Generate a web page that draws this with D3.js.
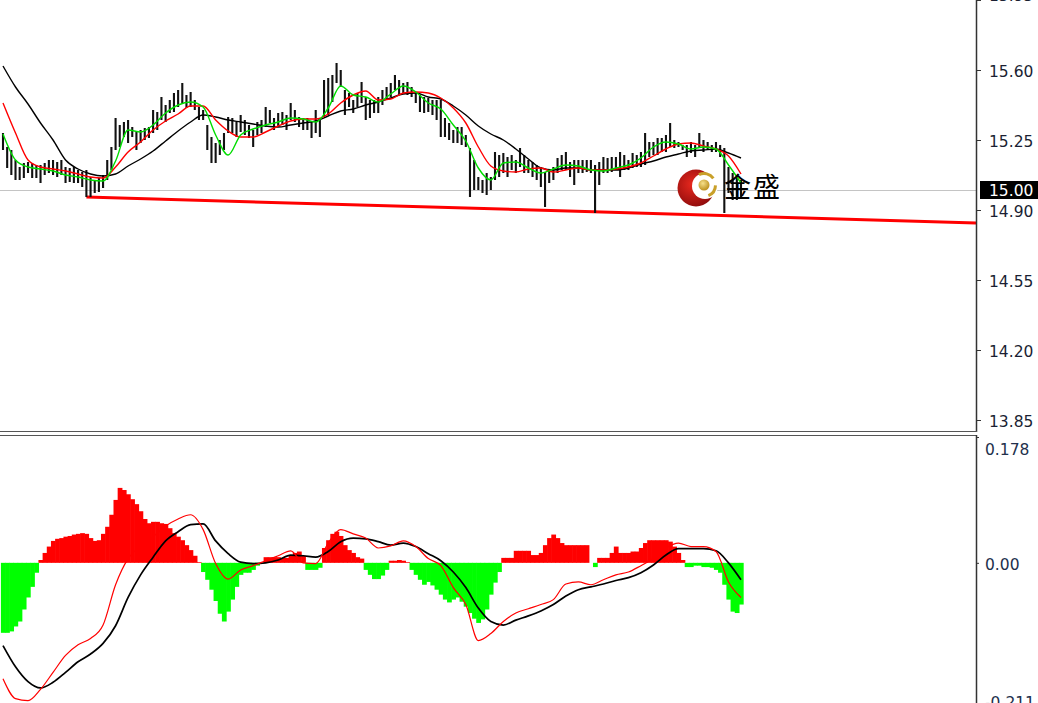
<!DOCTYPE html>
<html><head><meta charset="utf-8">
<script src="https://cdn.jsdelivr.net/npm/d3@7"></script>
<style>html,body{margin:0;padding:0;background:#fff;overflow:hidden}</style>
</head><body>
<svg id="c" width="1038" height="703"></svg>
<script>
// ---------------- DATA ----------------
const barHigh = [
15.285,15.215,15.200,15.150,15.115,15.135,15.140,15.135,15.125,15.125,
15.135,15.150,15.150,15.140,15.150,15.115,15.110,15.115,15.100,15.090,
15.100,15.065,15.050,15.060,15.075,15.150,15.215,15.360,15.325,15.340,
15.350,15.315,15.290,15.300,15.310,15.315,15.400,15.390,15.465,15.425,
15.450,15.485,15.500,15.535,15.475,15.490,15.450,15.415,15.400,15.325,
15.265,15.235,15.250,15.285,15.365,15.360,15.340,15.375,15.350,15.325,
15.300,15.340,15.350,15.415,15.400,15.360,15.385,15.390,15.375,15.435,
15.400,15.365,15.360,15.360,15.340,15.400,15.360,15.550,15.560,15.575,
15.635,15.600,15.500,15.485,15.450,15.485,15.540,15.465,15.450,15.450,
15.465,15.500,15.515,15.535,15.575,15.550,15.535,15.540,15.515,15.490,
15.475,15.465,15.460,15.450,15.450,15.450,15.360,15.335,15.300,15.315,
15.315,15.275,15.210,15.150,15.065,15.050,15.085,15.065,15.190,15.175,
15.185,15.165,15.175,15.150,15.210,15.175,15.150,15.140,15.125,15.115,
15.090,15.100,15.115,15.160,15.175,15.190,15.140,15.150,15.150,15.150,
15.150,15.150,15.125,15.140,15.165,15.160,15.165,15.165,15.190,15.175,
15.150,15.185,15.175,15.190,15.285,15.240,15.240,15.260,15.260,15.275,
15.335,15.250,15.240,15.225,15.225,15.240,15.225,15.285,15.250,15.240,
15.225,15.240,15.225,15.210,15.115,15.085,15.065,15.050];
const barLow = [
15.200,15.110,15.075,15.050,15.050,15.060,15.085,15.060,15.060,15.035,
15.075,15.085,15.075,15.065,15.075,15.035,15.040,15.035,15.035,15.015,
14.965,14.965,14.985,14.990,15.010,15.050,15.100,15.200,15.215,15.265,
15.235,15.265,15.200,15.235,15.250,15.260,15.285,15.300,15.350,15.340,
15.385,15.390,15.415,15.435,15.410,15.415,15.400,15.350,15.350,15.200,
15.135,15.135,15.175,15.200,15.285,15.285,15.265,15.290,15.275,15.260,
15.215,15.275,15.285,15.315,15.335,15.300,15.315,15.325,15.300,15.350,
15.340,15.315,15.300,15.300,15.260,15.285,15.265,15.365,15.375,15.440,
15.535,15.515,15.375,15.415,15.385,15.415,15.435,15.350,15.360,15.385,
15.385,15.425,15.450,15.465,15.500,15.475,15.485,15.475,15.465,15.435,
15.390,15.385,15.390,15.375,15.350,15.265,15.265,15.250,15.235,15.235,
15.225,15.215,14.965,15.000,15.000,14.985,14.975,15.000,15.050,15.065,
15.085,15.065,15.100,15.085,15.115,15.085,15.085,15.065,15.050,15.015,
14.915,15.035,15.050,15.085,15.100,15.100,15.065,15.025,15.085,15.085,
15.090,15.085,14.885,15.025,15.085,15.085,15.090,15.100,15.065,15.100,
15.100,15.110,15.115,15.115,15.125,15.165,15.175,15.175,15.190,15.190,
15.215,15.210,15.215,15.200,15.165,15.185,15.165,15.210,15.190,15.200,
15.190,15.190,15.165,14.885,14.985,14.950,14.950,14.965];

// moving averages, sampled every 3rd bar (bar 0,3,...,177)
const lineBars = d3.range(0, 178, 3);
const maFast = [15.280,15.150,15.115,15.105,15.095,15.075,15.065,15.050,15.045,15.145,
15.300,15.290,15.325,15.385,15.425,15.440,15.415,15.275,15.175,15.275,
15.305,15.325,15.340,15.360,15.355,15.340,15.410,15.520,15.475,15.465,
15.440,15.480,15.520,15.490,15.435,15.405,15.325,15.245,15.110,15.050,
15.135,15.140,15.110,15.085,15.105,15.125,15.120,15.100,15.095,15.110,
15.125,15.160,15.215,15.240,15.230,15.205,15.215,15.205,15.125,15.035];
const maMid = [15.435,15.285,15.150,15.115,15.105,15.095,15.080,15.065,15.060,15.115,
15.190,15.240,15.300,15.345,15.380,15.420,15.420,15.350,15.295,15.265,
15.265,15.290,15.320,15.345,15.355,15.355,15.380,15.435,15.475,15.495,
15.450,15.455,15.485,15.490,15.485,15.460,15.410,15.335,15.215,15.120,
15.095,15.090,15.105,15.110,15.090,15.100,15.110,15.100,15.100,15.105,
15.115,15.135,15.170,15.205,15.230,15.235,15.220,15.205,15.170,15.080];
const maSlow = [15.620,15.515,15.430,15.335,15.250,15.150,15.105,15.080,15.070,15.080,
15.120,15.155,15.195,15.245,15.295,15.340,15.375,15.365,15.350,15.340,
15.330,15.320,15.315,15.325,15.335,15.345,15.370,15.395,15.405,15.425,
15.440,15.460,15.480,15.485,15.465,15.455,15.420,15.375,15.320,15.280,
15.250,15.205,15.155,15.110,15.100,15.110,15.110,15.100,15.100,15.100,
15.110,15.130,15.145,15.165,15.180,15.195,15.200,15.205,15.185,15.160];

// MACD
const macdHist = [
-0.099,-0.099,-0.097,-0.090,-0.083,-0.066,-0.049,-0.034,-0.014,0.004,
0.014,0.023,0.031,0.034,0.035,0.037,0.038,0.040,0.041,0.042,
0.041,0.035,0.031,0.032,0.041,0.051,0.068,0.089,0.106,0.103,
0.097,0.090,0.083,0.073,0.062,0.056,0.058,0.058,0.056,0.055,
0.049,0.042,0.037,0.032,0.025,0.018,0.010,0.001,-0.013,-0.024,
-0.038,-0.054,-0.072,-0.083,-0.069,-0.052,-0.034,-0.017,-0.014,-0.014,
-0.010,-0.004,0.000,0.008,0.008,0.008,0.008,0.007,0.007,0.011,
0.014,0.016,0.010,-0.010,-0.010,-0.010,-0.007,0.021,0.032,0.041,
0.044,0.038,0.025,0.018,0.014,0.008,0.006,-0.010,-0.017,-0.023,
-0.023,-0.018,-0.010,0.003,0.003,0.004,0.003,0.001,-0.010,-0.017,
-0.024,-0.031,-0.027,-0.032,-0.038,-0.045,-0.052,-0.056,-0.052,-0.049,
-0.055,-0.062,-0.071,-0.079,-0.085,-0.080,-0.066,-0.045,-0.028,-0.013,
0.007,0.007,0.007,0.017,0.017,0.017,0.017,0.011,0.011,0.014,
0.025,0.035,0.040,0.035,0.028,0.025,0.025,0.025,0.025,0.025,
0.025,0.000,-0.006,0.007,0.007,0.007,0.014,0.023,0.014,0.014,
0.014,0.016,0.016,0.021,0.028,0.032,0.032,0.032,0.032,0.032,
0.030,0.023,0.014,0.004,-0.006,-0.006,-0.004,-0.004,-0.006,-0.006,
-0.007,-0.010,-0.014,-0.031,-0.052,-0.069,-0.071,-0.059];
const macdMain = [-0.164,-0.192,-0.195,-0.179,-0.155,-0.131,-0.116,-0.107,-0.088,-0.031,
0.006,0.024,0.037,0.052,0.062,0.068,0.047,-0.001,-0.023,-0.010,
-0.004,0.003,0.010,0.017,0.000,-0.001,0.028,0.047,0.041,0.035,
0.021,0.024,0.031,0.023,0.006,-0.004,-0.035,-0.059,-0.110,-0.100,
-0.083,-0.071,-0.065,-0.059,-0.052,-0.030,-0.027,-0.031,-0.024,-0.017,
-0.013,-0.004,0.006,0.021,0.028,0.023,0.023,0.016,-0.027,-0.049];
const macdSignal = [-0.117,-0.147,-0.168,-0.177,-0.169,-0.155,-0.140,-0.129,-0.114,-0.089,
-0.049,-0.017,0.008,0.031,0.044,0.054,0.055,0.031,0.013,0.001,
-0.001,0.000,0.004,0.011,0.010,0.008,0.016,0.030,0.035,0.034,
0.030,0.025,0.028,0.023,0.013,0.003,-0.013,-0.035,-0.064,-0.083,
-0.088,-0.081,-0.075,-0.068,-0.059,-0.047,-0.038,-0.034,-0.030,-0.025,
-0.021,-0.014,-0.003,0.011,0.020,0.020,0.020,0.017,0.000,-0.024];

const priceTicks = [15.95, 15.60, 15.25, 14.90, 14.55, 14.20, 13.85];
const currentPrice = 15.00;
const macdTicks = [0.178, 0.00, -0.211];
const macdTickLabels = ["0.178", "0.00", "-0.211"];
const trendPoints = [{bar: 20, price: 14.965}, {bar: 173, price: 14.872}];
const logoText = "金盛";

// ---------------- LAYOUT ----------------
const W = 1038, H = 703;
const axisX = 976;
const svg = d3.select("#c");
const x = d3.scaleLinear().domain([0, 177]).range([3, 741]);
const y = d3.scaleLinear().domain([13.85, 15.95]).range([420, 0]);
const ym = d3.scaleLinear().domain([-0.211, 0.178]).range([712, 437]);
const barW = x(1) - x(0);

const defs = svg.append("defs");
defs.append("clipPath").attr("id","cpMain").append("rect").attr("x",0).attr("y",0).attr("width",axisX).attr("height",431);
defs.append("clipPath").attr("id","cpMacd").append("rect").attr("x",0).attr("y",436).attr("width",axisX).attr("height",H-436);

const main = svg.append("g").attr("clip-path","url(#cpMain)");
const sub = svg.append("g").attr("clip-path","url(#cpMacd)");

// current price grey line
main.append("line").attr("x1",0).attr("x2",axisX).attr("y1",Math.round(y(currentPrice))+0.5).attr("y2",Math.round(y(currentPrice))+0.5)
  .attr("stroke","#c4c4c4").attr("stroke-width",1);

// trendline (support) extended to the right edge
const tb0 = trendPoints[0], tb1 = trendPoints[1];
const slope = (tb1.price - tb0.price) / (tb1.bar - tb0.bar);
const endBar = x.invert(axisX);
main.append("line")
  .attr("x1", x(tb0.bar)).attr("y1", y(tb0.price))
  .attr("x2", x(endBar)).attr("y2", y(tb0.price + slope*(endBar - tb0.bar)))
  .attr("stroke","#ff0000").attr("stroke-width",3);

// bars
main.append("g").selectAll("line").data(barHigh).join("line")
  .attr("x1",(d,i)=>x(i)).attr("x2",(d,i)=>x(i))
  .attr("y1",d=>y(d)).attr("y2",(d,i)=>y(barLow[i]))
  .attr("stroke","#111").attr("stroke-width",2.1);

// moving averages
const maLine = d3.line().x((d,i)=>x(lineBars[i])).y(d=>y(d)).curve(d3.curveMonotoneX);
[[maSlow,"#000000",1.4],[maMid,"#ff0000",1.4],[maFast,"#00dd00",1.4]].forEach(([arr,c,w])=>{
  main.append("path").attr("d",maLine(arr)).attr("fill","none").attr("stroke",c).attr("stroke-width",w);
});

// logo
const lg = svg.append("g");
const rg = defs.append("radialGradient").attr("id","redG").attr("cx","40%").attr("cy","40%").attr("r","65%");
rg.append("stop").attr("offset","0%").attr("stop-color","#e8281e");
rg.append("stop").attr("offset","100%").attr("stop-color","#8e0c0c");
const gg = defs.append("radialGradient").attr("id","goldG").attr("cx","40%").attr("cy","35%").attr("r","70%");
gg.append("stop").attr("offset","0%").attr("stop-color","#f6e08a");
gg.append("stop").attr("offset","100%").attr("stop-color","#b88a16");
lg.append("circle").attr("cx",696).attr("cy",188).attr("r",18.5).attr("fill","url(#redG)");
lg.append("circle").attr("cx",705).attr("cy",186).attr("r",13).attr("fill","#ffffff");
lg.append("circle").attr("cx",704).attr("cy",185).attr("r",5.5).attr("fill","url(#goldG)");
const arc = d3.arc().innerRadius(10).outerRadius(13);
lg.append("path").attr("transform","translate(704,185)")
  .attr("d",arc({startAngle:-0.45, endAngle:0.95})).attr("fill","#c9a02a");
lg.append("path").attr("transform","translate(704,185)")
  .attr("d",arc({startAngle:1.6, endAngle:2.75})).attr("fill","#c9a02a");
lg.append("text").attr("x",724).attr("y",197).text(logoText)
  .attr("font-family","'Noto Sans CJK SC','Noto Sans CJK JP',sans-serif")
  .attr("font-size",27).attr("letter-spacing",2).attr("fill","#000");

// MACD histogram
sub.append("g").selectAll("rect").data(macdHist).join("rect")
  .attr("x",(d,i)=>x(i)-barW/2).attr("width",barW+0.6)
  .attr("y",d=>Math.min(ym(d),ym(0))).attr("height",d=>Math.abs(ym(d)-ym(0)))
  .attr("fill",d=>d>=0?"#ff0000":"#00ff00");
const mLine = d3.line().x((d,i)=>x(lineBars[i])).y(d=>ym(d)).curve(d3.curveMonotoneX);
sub.append("path").attr("d",mLine(macdSignal)).attr("fill","none").attr("stroke","#000").attr("stroke-width",1.7);
sub.append("path").attr("d",mLine(macdMain)).attr("fill","none").attr("stroke","#ff0000").attr("stroke-width",1.2);

// frames / separators
svg.append("line").attr("x1",axisX+0.5).attr("x2",axisX+0.5).attr("y1",0).attr("y2",432).attr("stroke","#333").attr("stroke-width",1.5);
svg.append("line").attr("x1",0).attr("x2",axisX+1).attr("y1",431.5).attr("y2",431.5).attr("stroke","#555").attr("stroke-width",1.2);
svg.append("line").attr("x1",0).attr("x2",axisX+1).attr("y1",435.5).attr("y2",435.5).attr("stroke","#555").attr("stroke-width",1.2);
svg.append("line").attr("x1",axisX+0.5).attr("x2",axisX+0.5).attr("y1",435).attr("y2",H).attr("stroke","#333").attr("stroke-width",1.5);

// price axis
const fontFam = "'DejaVu Sans', Verdana, sans-serif";
const pa = svg.append("g").attr("transform",`translate(${axisX},0)`)
  .call(d3.axisRight(y).tickValues(priceTicks).tickFormat(d3.format(".2f")).tickSize(5).tickPadding(8));
pa.select(".domain").remove();
pa.selectAll(".tick line").attr("stroke","#333");
pa.selectAll(".tick text").attr("font-family",fontFam).attr("font-size",15.5).attr("fill","#1b1f33")
  .attr("dy",(d,i)=> i===0 ? "0.05em" : "0.4em");

// current price box
svg.append("rect").attr("x",980).attr("y",y(currentPrice)-9).attr("width",58).attr("height",18).attr("fill","#000");
svg.append("text").attr("x",989).attr("y",y(currentPrice)).attr("dy","0.38em").text(d3.format(".2f")(currentPrice))
  .attr("font-family",fontFam).attr("font-size",15.5).attr("fill","#fff");

// macd axis
const ma = svg.append("g").attr("transform",`translate(${axisX},0)`)
  .call(d3.axisRight(ym).tickValues(macdTicks).tickFormat((d,i)=>macdTickLabels[i]).tickSize(3).tickPadding(6));
ma.select(".domain").remove();
ma.selectAll(".tick line").attr("stroke","#333");
ma.selectAll(".tick text").attr("font-family",fontFam).attr("font-size",15.5).attr("fill","#22304c")
  .attr("dy",(d,i)=> i===0 ? "1.15em" : (i===2 ? "-0.3em" : "0.4em"));
ma.selectAll(".tick").filter((d,i)=>i===2).select("line").remove();
</script>
</body></html>
